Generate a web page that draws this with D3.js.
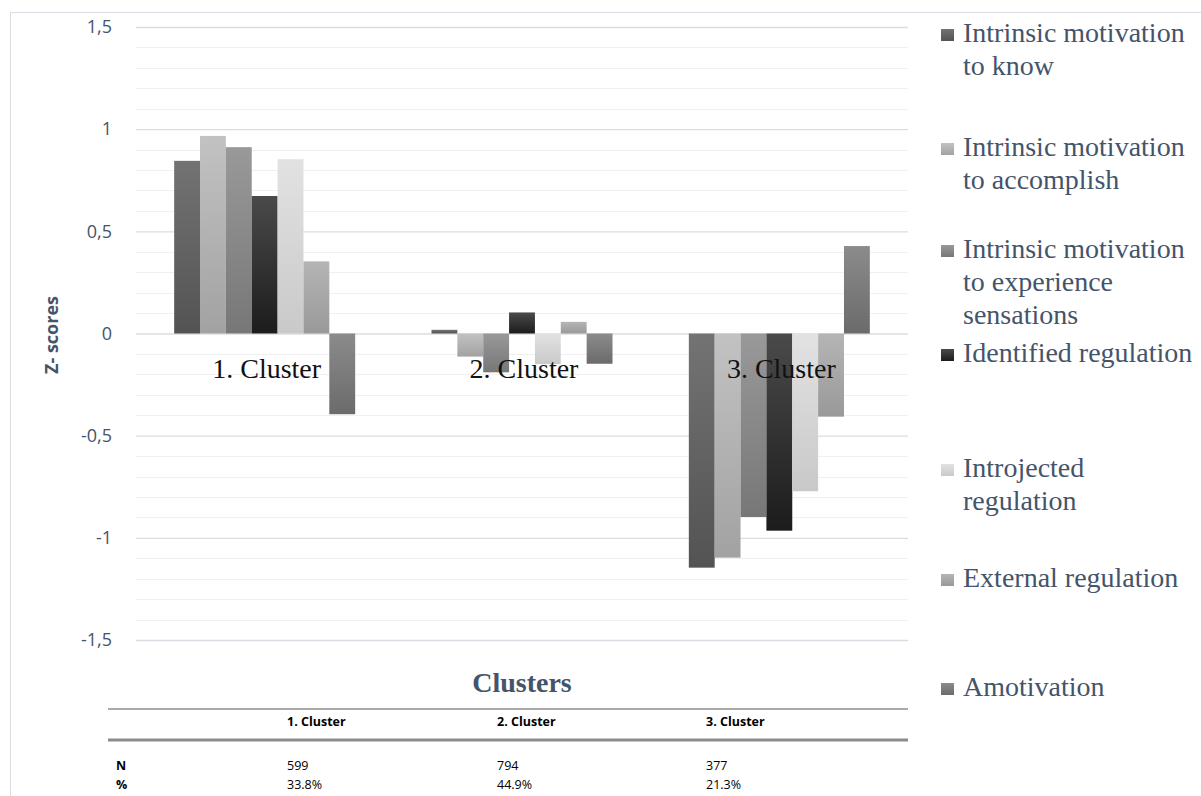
<!DOCTYPE html>
<html>
<head>
<meta charset="utf-8">
<script src="https://cdn.jsdelivr.net/npm/d3@7"></script>
<style>
  html, body { margin: 0; padding: 0; background: #fff; }
  svg { display: block; }
</style>
</head>
<body>
<svg id="chart" width="1201" height="796"></svg>
<script>
// ---------------- DATA ----------------
const clusters = ["1. Cluster", "2. Cluster", "3. Cluster"];
const seriesNames = [
  "Intrinsic motivation to know",
  "Intrinsic motivation to accomplish",
  "Intrinsic motivation to experience sensations",
  "Identified regulation",
  "Introjected regulation",
  "External regulation",
  "Amotivation"
];
const imToKnow        = [0.845, 0.018, -1.146];
const imToAccomplish  = [0.967, -0.113, -1.097];
const imToExperience  = [0.912, -0.190, -0.898];
const identifiedReg   = [0.673, 0.103, -0.965];
const introjectedReg  = [0.853, -0.150, -0.772];
const externalReg     = [0.353, 0.057, -0.407];
const amotivation     = [-0.395, -0.148, 0.428];
const seriesValues = [imToKnow, imToAccomplish, imToExperience, identifiedReg, introjectedReg, externalReg, amotivation];

const yTicks = [1.5, 1, 0.5, 0, -0.5, -1, -1.5];
const yTickLabels = ["1,5", "1", "0,5", "0", "-0,5", "-1", "-1,5"];

const legendLines = [
  ["Intrinsic motivation", "to know"],
  ["Intrinsic motivation", "to accomplish"],
  ["Intrinsic motivation", "to experience", "sensations"],
  ["Identified regulation"],
  ["Introjected", "regulation"],
  ["External regulation"],
  ["Amotivation"]
];

const tableRowLabels = ["N", "%"];
const tableN = ["599", "794", "377"];
const tablePct = ["33.8%", "44.9%", "21.3%"];

// ---------------- STYLE ----------------
const gradStops = [
  ["#737373", "#535353"],
  ["#c2c2c2", "#a2a2a2"],
  ["#999999", "#777777"],
  ["#4a4a4a", "#1c1c1c"],
  ["#e2e2e2", "#c9c9c9"],
  ["#b5b5b5", "#999999"],
  ["#8b8b8b", "#6b6b6b"]
];
const textBlue = "#44546a";
const serif = "'Liberation Serif', 'Times New Roman', serif";
const sans = "'Open Sans', 'Noto Sans', sans-serif";

const svg = d3.select("#chart");

// outer border
svg.append("rect")
  .attr("x", 10.5).attr("y", 12.5)
  .attr("width", 1200).attr("height", 800)
  .attr("fill", "none").attr("stroke", "#d9dde3").attr("stroke-width", 1);

// gradients
const defs = svg.append("defs");
gradStops.forEach((s, i) => {
  const g = defs.append("linearGradient").attr("id", "g" + i)
    .attr("x1", 0).attr("y1", 0).attr("x2", 0).attr("y2", 1);
  g.append("stop").attr("offset", "0%").attr("stop-color", s[0]);
  g.append("stop").attr("offset", "100%").attr("stop-color", s[1]);
});

// scales
const plotLeft = 136, plotRight = 908;
const y = d3.scaleLinear().domain([-1.5, 1.5]).range([640, 27]);
const x0 = d3.scaleBand().domain(clusters).range([plotLeft, plotRight])
  .paddingInner(0.2966).paddingOuter(0.1483);
const x1 = d3.scaleBand().domain(d3.range(seriesNames.length)).range([0, x0.bandwidth()]);

// minor gridlines
const minor = d3.range(-15, 16).map(v => v / 10).filter(v => Math.abs(Math.round(v * 2) - v * 2) > 1e-6);
svg.append("g").selectAll("line").data(minor).join("line")
  .attr("x1", plotLeft).attr("x2", plotRight)
  .attr("y1", d => Math.round(y(d)) + 0.5).attr("y2", d => Math.round(y(d)) + 0.5)
  .attr("stroke", "#f0f0f0").attr("stroke-width", 1.2);

// major gridlines via axis
const yAxis = d3.axisLeft(y).tickValues(yTicks).tickSize(-(plotRight - plotLeft)).tickFormat((d, i) => yTickLabels[i]);
const ga = svg.append("g").attr("transform", `translate(${plotLeft},0)`).call(yAxis);
ga.select(".domain").remove();
ga.selectAll(".tick line").attr("stroke", "#d9dde3").attr("stroke-width", 1.4);
ga.selectAll(".tick text")
  .attr("x", -24)
  .attr("fill", textBlue)
  .style("font-family", sans)
  .style("font-size", "18px");

// bars
const groups = svg.append("g").selectAll("g").data(clusters).join("g")
  .attr("transform", d => `translate(${x0(d)},0)`);
groups.selectAll("rect")
  .data((c, ci) => seriesValues.map((vals, si) => ({ si, v: vals[ci] })))
  .join("rect")
  .attr("x", d => x1(d.si))
  .attr("width", x1.bandwidth())
  .attr("y", d => y(Math.max(0, d.v)))
  .attr("height", d => Math.abs(y(d.v) - y(0)))
  .attr("fill", d => `url(#g${d.si})`);

// category labels (on top of bars)
svg.append("g").selectAll("text").data(clusters).join("text")
  .attr("x", d => x0(d) + x0.bandwidth() / 2 + 2)
  .attr("y", 378)
  .attr("text-anchor", "middle")
  .style("font-family", serif)
  .style("font-size", "28px")
  .attr("fill", "#111")
  .text(d => d);

// y axis title
svg.append("text")
  .attr("transform", "translate(58,335) rotate(-90)")
  .attr("text-anchor", "middle")
  .style("font-family", sans)
  .style("font-size", "18px")
  .style("font-weight", "bold")
  .attr("fill", textBlue)
  .text("Z- scores");

// x axis title
svg.append("text")
  .attr("x", 522).attr("y", 692)
  .attr("text-anchor", "middle")
  .style("font-family", serif)
  .style("font-size", "28px")
  .style("font-weight", "bold")
  .attr("fill", textBlue)
  .text("Clusters");

// legend
const legendFirstBaselines = [42, 156, 258, 362, 477, 587, 696];
const lineH = 33;
const lg = svg.append("g");
legendLines.forEach((lines, i) => {
  const b = legendFirstBaselines[i];
  lg.append("rect").attr("x", 941).attr("y", b - 13).attr("width", 13).attr("height", 12)
    .attr("fill", `url(#g${i})`);
  lines.forEach((t, j) => {
    lg.append("text").attr("x", 963).attr("y", b + j * lineH)
      .style("font-family", serif).style("font-size", "28px")
      .attr("fill", textBlue).text(t);
  });
});

// data table
const tbl = svg.append("g");
tbl.append("line").attr("x1", 108).attr("x2", 908).attr("y1", 709).attr("y2", 709)
  .attr("stroke", "#8c8c8c").attr("stroke-width", 1.5);
tbl.append("line").attr("x1", 108).attr("x2", 908).attr("y1", 740).attr("y2", 740)
  .attr("stroke", "#8c8c8c").attr("stroke-width", 3);
const colX = [287, 497, 706];
const tstyle = sel => sel.style("font-family", sans).style("font-size", "12.5px").attr("fill", "#000");
clusters.forEach((c, i) => {
  tstyle(tbl.append("text").attr("x", colX[i]).attr("y", 726).style("font-weight", "bold").text(c));
  tstyle(tbl.append("text").attr("x", colX[i]).attr("y", 770).text(tableN[i]));
  tstyle(tbl.append("text").attr("x", colX[i]).attr("y", 789).text(tablePct[i]));
});
tableRowLabels.forEach((l, i) => {
  tstyle(tbl.append("text").attr("x", 116).attr("y", i === 0 ? 770 : 789).style("font-weight", "bold").text(l));
});
</script>
</body>
</html>
